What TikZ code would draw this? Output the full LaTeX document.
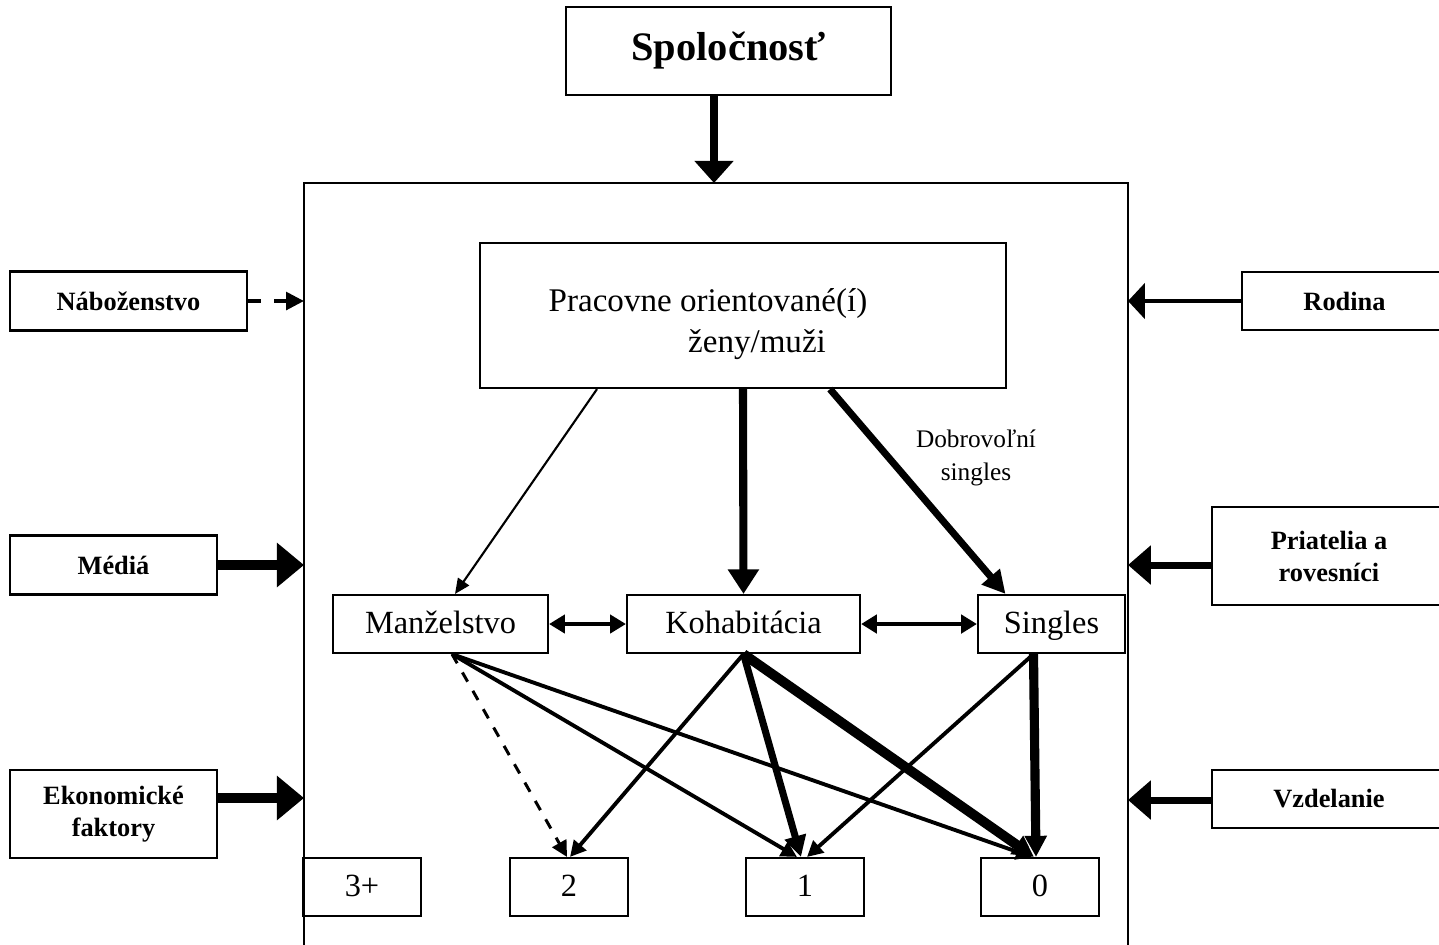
\documentclass[tikz,border=0pt]{standalone}
\usepackage{fontspec}
\setmainfont{Liberation Serif}
\usepackage{tikz}
\usetikzlibrary{
    arrows,
    arrows.meta,
    calc
}

\newcommand{\sizetop}{\fontsize{11.5}{14}\selectfont\bfseries}
\newcommand{\sizeside}{\fontsize{7.5}{9.1}\selectfont\bfseries}
\newcommand{\sizemain}{\fontsize{9.4}{11.7}\selectfont}
\newcommand{\sizeinner}{\fontsize{9.2}{11}\selectfont}
\newcommand{\sizenote}{\fontsize{7.2}{9.6}\selectfont}

\tikzset{
    box/.style={draw, line width=0.6pt, inner sep=0pt, align=center},
    sidebox/.style={box, font=\sizeside},
    innerbox/.style={box, font=\sizeinner, minimum height=0.58cm, text height=1.6ex, text depth=0.45ex},
    countbox/.style={innerbox, minimum width=1.18cm},
    toparrow/.style={-{Triangle[length=6.3pt, width=10.8pt]}, line width=2.3pt},
    widearrow/.style={-{Triangle[length=7.7pt, width=12.2pt]}, line width=2.8pt},
    leftarrow/.style={-{Triangle[length=6.5pt, width=10.8pt]}, line width=2pt},
    linkarrow/.style={{Triangle[length=4.5pt, width=5.2pt]}-{Triangle[length=4.5pt, width=5.2pt]}},
    downarrow/.style={-{Triangle[length=4.5pt, width=4.5pt]}, line width=1.1pt},
    heavyarrow/.style={-{Triangle[length=6pt, width=6pt]}}
}

\begin{document}
\begin{tikzpicture}[x=0.01cm, y=-0.01cm]
    \useasboundingbox (0,0) rectangle (1439,944);

    \node[box, font=\sizetop, minimum width=3.25cm, minimum height=0.88cm] (society) at (728.5,51) {Spoločnosť};

    \draw[line width=0.45pt] (304,960) -- (304,183) -- (1128,183) -- (1128,960);
    \coordinate (ftop) at (714,183);
    \coordinate (fl1) at (304,301);
    \coordinate (fl2) at (304,565);
    \coordinate (fl3) at (304,798);
    \coordinate (fr1) at (1128,301);
    \coordinate (fr2) at (1128,565);
    \coordinate (fr3) at (1128,800);

    \node[sidebox, minimum width=2.37cm, minimum height=0.59cm] (religion) at (128.5,301) {Náboženstvo};
    \node[sidebox, minimum width=2.07cm, minimum height=0.59cm] (media) at (113.5,565) {Médiá};
    \node[sidebox, minimum width=2.07cm, minimum height=0.88cm] (economy) at (113.5,814) {Ekonomické\\faktory};

    \node[sidebox, minimum width=2.05cm, minimum height=0.58cm] (family) at (1344.5,301) {Rodina};
    \node[sidebox, minimum width=2.34cm, minimum height=0.98cm] (friends) at (1329,556) {Priatelia a\\rovesníci};
    \node[sidebox, minimum width=2.34cm, minimum height=0.58cm] (education) at (1329,799) {Vzdelanie};

    \draw[toparrow] (society.south -| ftop) -- (ftop);
    \draw[-{Triangle[length=5.1pt, width=5pt]}, line width=1.1pt, dash pattern=on 3.7pt off 3.7pt] (religion) -- (fl1);
    \draw[widearrow] (media) -- (fl2);
    \draw[widearrow] (economy.east |- fl3) -- (fl3);
    \draw[-{Triangle[length=4.8pt, width=10pt]}, line width=1.4pt] (family) -- (fr1);
    \draw[leftarrow] (friends.west |- fr2) -- (fr2);
    \draw[leftarrow] (education.west |- fr3) -- (fr3);

    \node[box, font=\sizemain, minimum width=5.26cm, minimum height=1.45cm] (work) at (743,315.5) {\rule{0pt}{11.5pt}Pracovne orientované(í)\hspace*{0.7cm}\\\hspace*{0.28cm}ženy/muži};

    \node[innerbox, minimum width=2.15cm] (marriage) at (440.5,624) {Manželstvo};
    \node[innerbox, minimum width=2.33cm] (cohab) at (743.5,624) {Kohabitácia};
    \node[innerbox, minimum width=1.47cm] (singles) at (1051.5,624) {Singles};

    \node[countbox] (n3) at (362,887) {3+};
    \node[countbox] (n2) at (569,887) {2};
    \node[countbox] (n1) at (805,887) {1};
    \node[countbox] (n0) at (1040,887) {0};

    \draw[-{Triangle[length=4.3pt, width=3.8pt]}, line width=0.6pt] ($(work.south)+(-146,0)$) -- ($(marriage.north)+(14.5,0)$);
    \draw[-{Triangle[length=7pt, width=8.5pt]}, line width=2.3pt] (work.south) -- (cohab.north);
    \draw[-{Triangle[length=6.5pt, width=6.5pt]}, line width=2pt] ($(work.south)+(87,0)$) -- ($(singles.north)+(-46,0)$);
    \node[font=\sizenote, align=center] (voluntary) at (976,458) {Dobrovoľní\\singles};

    \draw[linkarrow, line width=1pt] (marriage) -- (cohab);
    \draw[linkarrow, line width=1.4pt] (cohab) -- (singles);

    \coordinate (mout) at ($(marriage.south)+(11.5,0)$);
    \coordinate (sout) at ($(singles.south)+(-18,0)$);

    \draw[downarrow, line width=0.85pt, dashed] (mout) -- ($(n2.north)+(-2,0)$);
    \draw[downarrow] (mout) -- ($(n1.north)+(-8,0)$);
    \draw[downarrow] (mout) -- ($(n0.north)+(-8,0)$);

    \draw[downarrow] (cohab.south) -- ($(n2.north)+(1,0)$);
    \draw[heavyarrow, line width=2pt] (cohab.south) -- ($(n1.north)+(-4,0)$);
    \draw[heavyarrow, line width=2.8pt] (cohab.south) -- ($(n0.north)+(-6,0)$);

    \draw[downarrow] (sout) -- ($(n1.north)+(2,0)$);
    \draw[heavyarrow, line width=2.6pt] (sout) -- ($(n0.north)+(-4,0)$);
\end{tikzpicture}
\end{document}
